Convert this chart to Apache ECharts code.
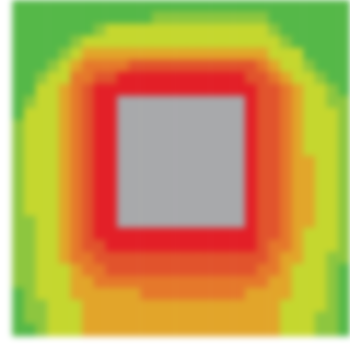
<!DOCTYPE html>
<html>
<head>
<meta charset="utf-8">
<script src="https://cdn.jsdelivr.net/npm/echarts@6/dist/echarts.min.js"></script>
<style>
  html, body { margin: 0; padding: 0; background: #ffffff; }
  #chart { width: 350px; height: 352px; filter: blur(3px); }
</style>
</head>
<body>
<div id="chart"></div>
<script>
// Contour level of each grid cell, one string per row (top row first).
// 0 = lowest band (outer green) ... 6 = highest band (red), 7 = the core block (grey).
const levelRows = [
  "00000000000000000000000000000",
  "00000000000011111111110000000",
  "00000001222222222222221000000",
  "00000122222222222222222100000",
  "00001233333333333333332220000",
  "00012344445555555555543221000",
  "00122445566666666666554322100",
  "00223456666666666666655432210",
  "01223456677777777777655432211",
  "02223456677777777777655432221",
  "12223456677777777777655432221",
  "12223456677777777777655432221",
  "12223456677777777777655432221",
  "12223456677777777777655433221",
  "12223456677777777777655433221",
  "12223456677777777777655433221",
  "12223456677777777777655433221",
  "12223456677777777777655433221",
  "11223456677777777777655433221",
  "11223456666666666666655432221",
  "11223455666666666666654432221",
  "11223445555555555555554332211",
  "11222344555555555555544322210",
  "11222334444444444444443322210",
  "01222333333444444444333322210",
  "01122233333333333333333222210",
  "01122233333333333333333222110",
  "00122233333333333333333222110"
];

// Band colours, lowest to highest.
const levelColors = [
  "#55b848", // 0 green
  "#8dc63f", // 1 light green
  "#c5d72f", // 2 yellow-green
  "#e2a52a", // 3 orange-yellow
  "#e5782b", // 4 orange
  "#e1532c", // 5 orange-red
  "#e31f27", // 6 red
  "#a8a9ab"  // 7 grey core
];

const colCount = levelRows[0].length;
const rowCount = levelRows.length;
const colNames = Array.from({ length: colCount }, (_, i) => String(i));
const rowNames = Array.from({ length: rowCount }, (_, i) => String(i));

const cells = [];
levelRows.forEach((row, r) => {
  for (let c = 0; c < row.length; c++) {
    cells.push([c, r, Number(row[c])]);
  }
});

const chart = echarts.init(document.getElementById('chart'), null, { renderer: 'canvas' });
chart.setOption({
  animation: false,
  backgroundColor: '#ffffff',
  grid: { left: 12.5, top: 0, width: 340, height: 336 },
  xAxis: { type: 'category', data: colNames, show: false },
  yAxis: { type: 'category', data: rowNames, inverse: true, show: false },
  visualMap: {
    type: 'piecewise',
    show: false,
    dimension: 2,
    pieces: levelColors.map((color, i) => ({ value: i, color: color }))
  },
  series: [{
    type: 'heatmap',
    data: cells,
    itemStyle: { borderWidth: 0 },
    emphasis: { disabled: true }
  }]
});
</script>
</body>
</html>
